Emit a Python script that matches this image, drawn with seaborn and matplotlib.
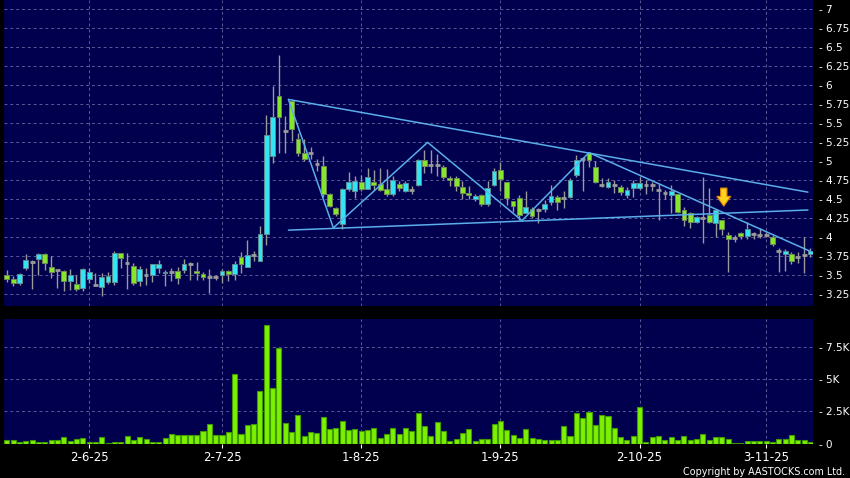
import numpy as np
import pandas as pd
import matplotlib
matplotlib.use("Agg")
import matplotlib.pyplot as plt
import seaborn as sns

# daily candles, one per trading day
OPEN = [3.50, 3.45, 3.39, 3.59, 3.67, 3.71, 3.78, 3.61, 3.56, 3.55,
        3.42, 3.38, 3.33, 3.45, 3.37, 3.34, 3.41, 3.41, 3.79, 3.66,
        3.62, 3.42, 3.50, 3.50, 3.59, 3.52, 3.54, 3.55, 3.57, 3.64,
        3.55, 3.51, 3.47, 3.47, 3.50, 3.55, 3.51, 3.74, 3.60, 3.76,
        3.68, 4.04, 5.06, 5.86, 5.40, 5.79, 5.29, 5.10, 5.10, 4.96,
        4.94, 4.57, 4.38, 4.17, 4.63, 4.60, 4.72, 4.63, 4.73, 4.70,
        4.63, 4.57, 4.70, 4.60, 4.62, 4.68, 5.01, 4.95, 4.95, 4.92,
        4.78, 4.77, 4.66, 4.58, 4.50, 4.55, 4.44, 4.69, 4.88, 4.73,
        4.47, 4.51, 4.32, 4.37, 4.35, 4.37, 4.46, 4.52, 4.51, 4.52,
        4.81, 5.03, 5.10, 4.92, 4.68, 4.66, 4.68, 4.66, 4.55, 4.65,
        4.64, 4.69, 4.69, 4.62, 4.58, 4.55, 4.56, 4.35, 4.32, 4.20,
        4.25, 4.29, 4.19, 4.22, 4.03, 3.99, 4.05, 4.01, 4.04, 4.03,
        4.03, 4.00, 3.82, 3.77, 3.77, 3.74, 3.76, 3.77]
HIGH = [3.57, 3.49, 3.52, 3.77, 3.70, 3.79, 3.79, 3.75, 3.57, 3.57,
        3.58, 3.50, 3.59, 3.59, 3.52, 3.52, 3.54, 3.82, 3.79, 3.79,
        3.66, 3.62, 3.59, 3.65, 3.70, 3.57, 3.59, 3.60, 3.71, 3.67,
        3.67, 3.54, 3.58, 3.50, 3.58, 3.56, 3.68, 3.80, 3.96, 3.82,
        4.14, 5.61, 5.99, 6.40, 5.59, 5.80, 5.37, 5.29, 5.18, 5.03,
        5.07, 4.58, 4.40, 4.64, 4.85, 4.80, 4.82, 4.91, 4.88, 4.91,
        4.89, 4.80, 4.74, 4.74, 4.67, 5.02, 5.15, 5.14, 5.09, 4.95,
        4.80, 4.80, 4.74, 4.67, 4.56, 4.56, 4.74, 4.91, 4.99, 4.73,
        4.47, 4.55, 4.60, 4.40, 4.38, 4.49, 4.68, 4.55, 4.60, 4.77,
        5.08, 5.05, 5.12, 5.00, 4.77, 4.77, 4.75, 4.68, 4.66, 4.75,
        4.79, 4.75, 4.73, 4.71, 4.62, 4.68, 4.57, 4.40, 4.33, 4.28,
        4.79, 4.64, 4.37, 4.22, 4.07, 4.02, 4.07, 4.20, 4.07, 4.12,
        4.06, 4.02, 3.85, 3.84, 3.80, 3.80, 4.00, 3.85]
LOW = [3.41, 3.35, 3.37, 3.57, 3.31, 3.50, 3.57, 3.46, 3.33, 3.29,
       3.30, 3.29, 3.29, 3.40, 3.35, 3.22, 3.38, 3.37, 3.59, 3.32,
       3.37, 3.35, 3.37, 3.41, 3.52, 3.35, 3.42, 3.38, 3.53, 3.43,
       3.43, 3.43, 3.26, 3.43, 3.40, 3.42, 3.43, 3.53, 3.60, 3.68,
       3.68, 3.90, 4.98, 5.11, 5.11, 5.26, 5.07, 5.00, 5.03, 4.87,
       4.52, 4.39, 4.27, 4.11, 4.60, 4.51, 4.61, 4.63, 4.62, 4.60,
       4.54, 4.54, 4.61, 4.59, 4.57, 4.67, 4.84, 4.84, 4.80, 4.76,
       4.67, 4.61, 4.50, 4.50, 4.48, 4.41, 4.41, 4.67, 4.61, 4.42,
       4.33, 4.22, 4.31, 4.25, 4.18, 4.33, 4.42, 4.36, 4.38, 4.51,
       4.79, 4.60, 4.92, 4.71, 4.66, 4.64, 4.58, 4.55, 4.51, 4.53,
       4.62, 4.57, 4.60, 4.22, 4.50, 4.32, 4.32, 4.15, 4.12, 4.18,
       3.92, 4.18, 4.00, 4.02, 3.54, 3.94, 3.98, 3.98, 3.98, 3.99,
       4.00, 3.88, 3.54, 3.55, 3.64, 3.66, 3.53, 3.74]
CLOSE = [3.45, 3.40, 3.51, 3.70, 3.67, 3.78, 3.66, 3.54, 3.56, 3.42,
         3.50, 3.31, 3.58, 3.54, 3.37, 3.47, 3.49, 3.79, 3.73, 3.66,
         3.40, 3.58, 3.50, 3.64, 3.65, 3.54, 3.54, 3.46, 3.64, 3.64,
         3.52, 3.47, 3.47, 3.47, 3.55, 3.51, 3.64, 3.65, 3.76, 3.76,
         4.04, 5.34, 5.58, 5.58, 5.40, 5.42, 5.10, 5.02, 5.10, 4.96,
         4.57, 4.41, 4.30, 4.63, 4.72, 4.74, 4.63, 4.79, 4.69, 4.62,
         4.57, 4.75, 4.64, 4.71, 4.62, 5.01, 4.94, 4.95, 4.95, 4.79,
         4.75, 4.67, 4.58, 4.55, 4.54, 4.44, 4.65, 4.87, 4.76, 4.51,
         4.41, 4.29, 4.39, 4.27, 4.35, 4.44, 4.54, 4.46, 4.51, 4.75,
         5.01, 5.03, 5.01, 4.72, 4.68, 4.72, 4.68, 4.59, 4.62, 4.71,
         4.71, 4.69, 4.69, 4.62, 4.58, 4.61, 4.33, 4.23, 4.20, 4.26,
         4.25, 4.20, 4.36, 4.11, 3.98, 3.99, 4.01, 4.10, 4.04, 4.03,
         4.03, 3.91, 3.82, 3.81, 3.68, 3.74, 3.76, 3.81]
VOLUME = [234, 260, 78, 182, 234, 104, 130, 260, 260, 469,
          208, 339, 390, 104, 104, 469, 52, 104, 104, 547,
          260, 495, 312, 78, 78, 417, 703, 625, 677, 651,
          651, 937, 1510, 651, 651, 859, 5442, 729, 1458, 1510,
          4114, 9218, 4297, 7421, 1614, 885, 2213, 599, 911, 833,
          2031, 1146, 1198, 1771, 1016, 1120, 990, 1042, 1172, 417,
          755, 1172, 755, 1172, 963, 2370, 1354, 573, 1640, 937,
          182, 312, 807, 1094, 182, 365, 365, 1484, 1771, 1042,
          651, 443, 1094, 417, 312, 234, 234, 234, 1380, 573,
          2396, 1979, 2474, 1406, 2187, 2161, 1224, 521, 260, 599,
          2838, 130, 495, 599, 260, 495, 286, 547, 286, 365,
          703, 286, 495, 495, 312, 52, 52, 182, 208, 208,
          156, 104, 339, 339, 625, 234, 234, 104]

TICK_POS = [13, 34, 56, 78, 100, 120]
TICK_LABELS = ["2-6-25", "2-7-25", "1-8-25", "1-9-25", "2-10-25", "3-11-25"]
PRICE_TICKS = [3.25, 3.5, 3.75, 4, 4.25, 4.5, 4.75, 5, 5.25, 5.5, 5.75, 6, 6.25, 6.5, 6.75, 7]
VOL_TICKS = [0, 2500, 5000, 7500]
VOL_LABELS = ["0", "2.5K", "5K", "7.5K"]

# hand-drawn trend lines (day index, price)
UPPER_X, UPPER_Y = [44.5, 126.6], [5.81, 4.59]
LOWER_X, LOWER_Y = [44.5, 126.6], [4.09, 4.355]
FALL_X, FALL_Y = [92.0, 127.0], [5.11, 3.81]
ZIGZAG_X = [44.5, 51.6, 66.5, 81.4, 92.0]
ZIGZAG_Y = [5.81, 4.12, 5.245, 4.215, 5.11]
ARROW_X, ARROW_TOP, ARROW_TIP = 113.3, 4.68, 4.37

BG = "#00004e"
CYAN = "#33e4f2"
GREEN = "#86e62a"
WICK = "#9a9a9a"
LINE = "#5aaeea"
GRID = "#5a5a98"

df = pd.DataFrame({"open": OPEN, "high": HIGH, "low": LOW, "close": CLOSE, "volume": VOLUME})
df["idx"] = np.arange(len(df))

sns.set_style("dark")
plt.rcParams["font.family"] = ["DejaVu Sans"]

fig = plt.figure(figsize=(8.5, 4.78), dpi=100, facecolor="black")
ax = fig.add_axes([4 / 850, 1 - 306 / 478, 809 / 850, 306 / 478])
axv = fig.add_axes([4 / 850, (478 - 443.5) / 478, 809 / 850, (443.5 - 319) / 478])

for a in (ax, axv):
    a.set_facecolor(BG)
    for s in a.spines.values():
        s.set_visible(False)

# candles
up = df[df.close > df.open]
down = df[df.close < df.open]
flat = df[df.close == df.open]
ax.vlines(df.idx, df.low, df.high, color=WICK, lw=1, zorder=2)
ax.bar(up.idx, up.close - up.open, bottom=up.open, width=0.76,
       color=CYAN, edgecolor="#5d8c93", lw=0.7, zorder=3)
ax.bar(down.idx, down.open - down.close, bottom=down.close, width=0.76,
       color=GREEN, edgecolor="#6d8a55", lw=0.7, zorder=3)
ax.hlines(flat.close, flat.idx - 0.38, flat.idx + 0.38, color=WICK, lw=2, zorder=3)

# trend lines + marker arrow
for xs, ys in [(UPPER_X, UPPER_Y), (LOWER_X, LOWER_Y), (FALL_X, FALL_Y), (ZIGZAG_X, ZIGZAG_Y)]:
    ax.plot(xs, ys, color=LINE, lw=1.1, zorder=4)
ax.annotate("", xy=(ARROW_X, ARROW_TIP), xytext=(ARROW_X, ARROW_TOP),
            arrowprops=dict(arrowstyle="simple,head_length=0.7,head_width=1.0,tail_width=0.45",
                            fc="#ffd21f", ec="#e08a00", lw=0.8, mutation_scale=10),
            zorder=5)

ax.set_xlim(-0.45, 127.4)
ax.set_ylim(3.092, 7.118)
ax.yaxis.tick_right()
ax.set_yticks(PRICE_TICKS)
ax.set_yticklabels([f"- {v:g}" for v in PRICE_TICKS])
ax.set_xticks(TICK_POS)
ax.set_xticklabels([])
ax.tick_params(axis="y", length=0, pad=4, labelcolor="white", labelsize=7.5)
ax.tick_params(axis="x", length=0)
ax.grid(True, color=GRID, ls=(0, (3, 3)), lw=0.7)
ax.set_axisbelow(True)

# volume
sns.barplot(data=df, x="idx", y="volume", ax=axv, color="#7cf000", saturation=1,
            width=0.8, edgecolor="#3f9a00", linewidth=0.8, zorder=3)
axv.set_xlim(-0.45, 127.4)
axv.set_ylim(0, 9700)
axv.set_xlabel("")
axv.set_ylabel("")
axv.yaxis.tick_right()
axv.set_yticks(VOL_TICKS)
axv.set_yticklabels([f"- {t}" for t in VOL_LABELS])
axv.set_xticks(TICK_POS)
axv.set_xticklabels(TICK_LABELS)
axv.tick_params(axis="y", length=0, pad=4, labelcolor="white", labelsize=7.5)
axv.tick_params(axis="x", length=3, width=0.8, color="white", pad=2.5,
                labelcolor="white", labelsize=8.5, bottom=True)
axv.grid(True, color=GRID, ls=(0, (3, 3)), lw=0.7)
axv.set_axisbelow(True)

fig.text(0.994, 0.013, "Copyright by AASTOCKS.com Ltd.", ha="right", va="center",
         color="white", fontsize=6.9)

fig.savefig("out.png", dpi=100, facecolor="black")
